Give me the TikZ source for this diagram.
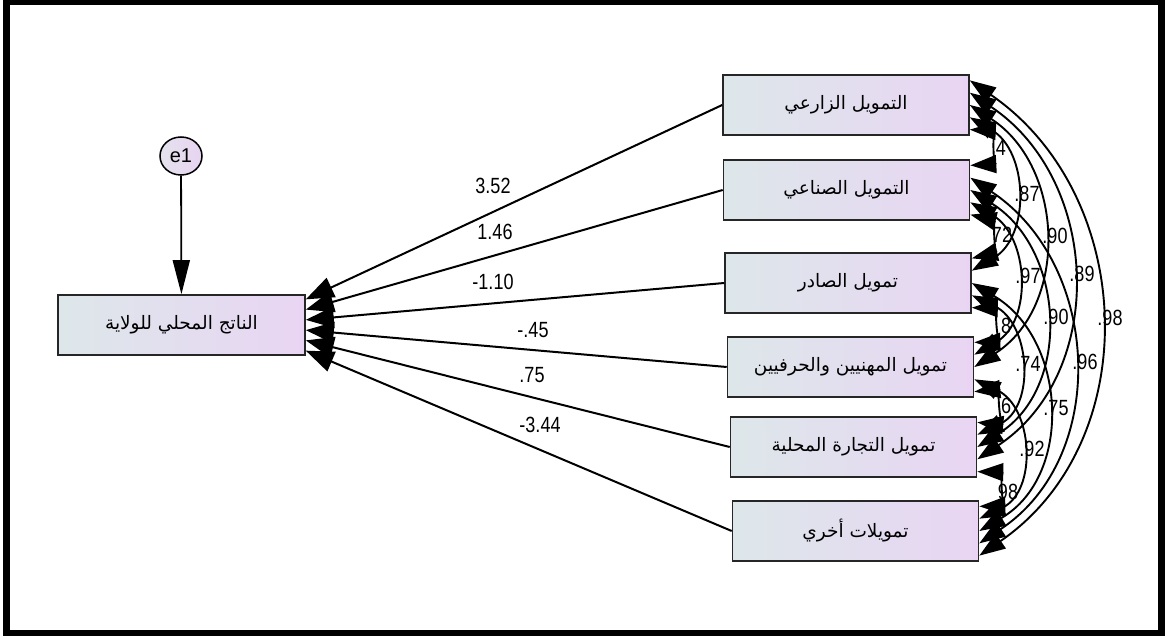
\documentclass[tikz,border=0pt]{standalone}
\usepackage{fontspec}
\setmainfont{Liberation Sans}
\newfontfamily\arabicfont[Script=Arabic]{DejaVu Sans}
\TeXXeTstate=1
\usetikzlibrary{arrows.meta,calc,shapes.geometric}
\definecolor{boxL}{RGB}{221,231,234}
\definecolor{boxR}{RGB}{233,213,243}
\definecolor{errL}{RGB}{228,226,236}
\definecolor{errR}{RGB}{232,212,242}
% narrow digits for the estimates
\newcommand\nlab[1]{\scalebox{0.82}[1]{#1}}
\begin{document}
\begin{tikzpicture}[x=1pt,y=-1pt,
  every node/.style={inner sep=0pt},
  var/.style={draw=black!85, line width=1.6pt, left color=boxL, right color=boxR,
    minimum width=246pt, minimum height=60pt,
    font=\arabicfont\fontsize{18.5}{22}\selectfont},
  err/.style={ellipse, draw=black, line width=1.5pt, left color=errL, right color=errR,
    minimum width=42pt, minimum height=38pt, font=\fontsize{20}{24}\selectfont},
  reg/.style={draw, line width=2pt, -{Triangle[length=28pt,width=21pt]}},
  errarr/.style={draw, line width=1.8pt, -{Triangle[length=34pt,width=17pt]}},
  cov/.style={draw, line width=1.9pt, {Triangle[length=26pt,width=18pt]}-{Triangle[length=26pt,width=18pt]}},
  coef/.style={font=\fontsize{22}{25}\selectfont}]
\useasboundingbox (0,0) rectangle (1166,636);
\fill[white] (0,0) rectangle (1166,636);

% outer frame
\draw[line width=7pt] (6.5,2) rectangle (1161,633.5);

% observed variables
\node[var] (b1) at (846,105)   {\beginR التمويل الزارعي\endR};
\node[var] (b2) at (846.5,190) {\beginR التمويل الصناعي\endR};
\node[var] (b3) at (848,283)   {\beginR تمويل الصادر\endR};
\node[var] (b4) at (850.5,367) {\beginR تمويل المهنيين والحرفيين\endR};
\node[var] (b5) at (853.5,447) {\beginR تمويل التجارة المحلية\endR};
\node[var] (b6) at (855.5,531) {\beginR تمويلات أخري\endR};

% dependent variable and its error term
\node[var, minimum width=247pt] (gdp) at (181.5,325) {\beginR الناتج المحلي للولاية\endR};
\node[err] (e1) at (181,156) {e1};
\draw[errarr] (e1) -- (gdp);

% regression paths
\foreach \i in {1,...,6}{
  \coordinate (g\i) at ($(gdp.north east)!{(\i-0.5)/6}!(gdp.south east)$);
  \draw[reg] (b\i.west) -- (g\i);
}

% regression weights
\node[coef] (p1) at (493,186) {\nlab{3.52}};
\node[coef] (p2) at (495,232) {\nlab{1.46}};
\node[coef] (p3) at (493,282) {\nlab{-1.10}};
\node[coef] (p4) at (533,330) {\nlab{-.45}};
\node[coef] (p5) at (532,375) {\nlab{.75}};
\node[coef] (p6) at (540,425) {\nlab{-3.44}};

% correlations
\node[coef] (c12) at (1001,148) {\nlab{4}};
\node[coef] (c23) at (1002,235) {\nlab{72}};
\node[coef] (c34) at (1006,326) {\nlab{8}};
\node[coef] (c45) at (1006,406) {\nlab{6}};
\node[coef] (c56) at (1008,492) {\nlab{98}};
\node[coef] (c13) at (1027,194) {\nlab{.87}};
\node[coef] (c24) at (1028,276) {\nlab{.97}};
\node[coef] (c35) at (1028,364) {\nlab{.74}};
\node[coef] (c46) at (1032,449) {\nlab{.92}};
\node[coef] (c14) at (1055,236) {\nlab{.90}};
\node[coef] (c25) at (1056,317) {\nlab{.90}};
\node[coef] (c36) at (1056,408) {\nlab{.75}};
\node[coef] (c15) at (1082,274) {\nlab{.89}};
\node[coef] (c26) at (1085,362) {\nlab{.96}};
\node[coef] (c16) at (1110,318) {\nlab{.98}};

% covariance arcs between every pair of observed variables
% (control offsets given in canvas points: y grows upwards there)
\foreach \i in {1,...,5}{
  \pgfmathtruncatemacro\ii{\i+1}
  \foreach \j in {\ii,...,6}{
    \pgfmathsetmacro\fa{((\i-1)+(6-\j)+0.5)/5}
    \pgfmathsetmacro\fb{((\j-1-\i)+0.5)/5}
    \pgfmathsetmacro\sg{27*(\j-\i)-10}
    \draw[cov] let \p1=($(b\i.north east)!\fa!(b\i.south east)$),
                   \p2=($(b\j.north east)!\fb!(b\j.south east)$),
                   \n1={2*atan(2*\sg/(\y1-\y2))},
                   \n2={\sg/(0.75*sin(\n1))} in
      (\p1) .. controls +({\n2*sin(\n1)*1pt},{-\n2*cos(\n1)*1pt})
               and +({\n2*sin(\n1)*1pt},{\n2*cos(\n1)*1pt}) .. (\p2);
  }
}
\end{tikzpicture}
\end{document}
